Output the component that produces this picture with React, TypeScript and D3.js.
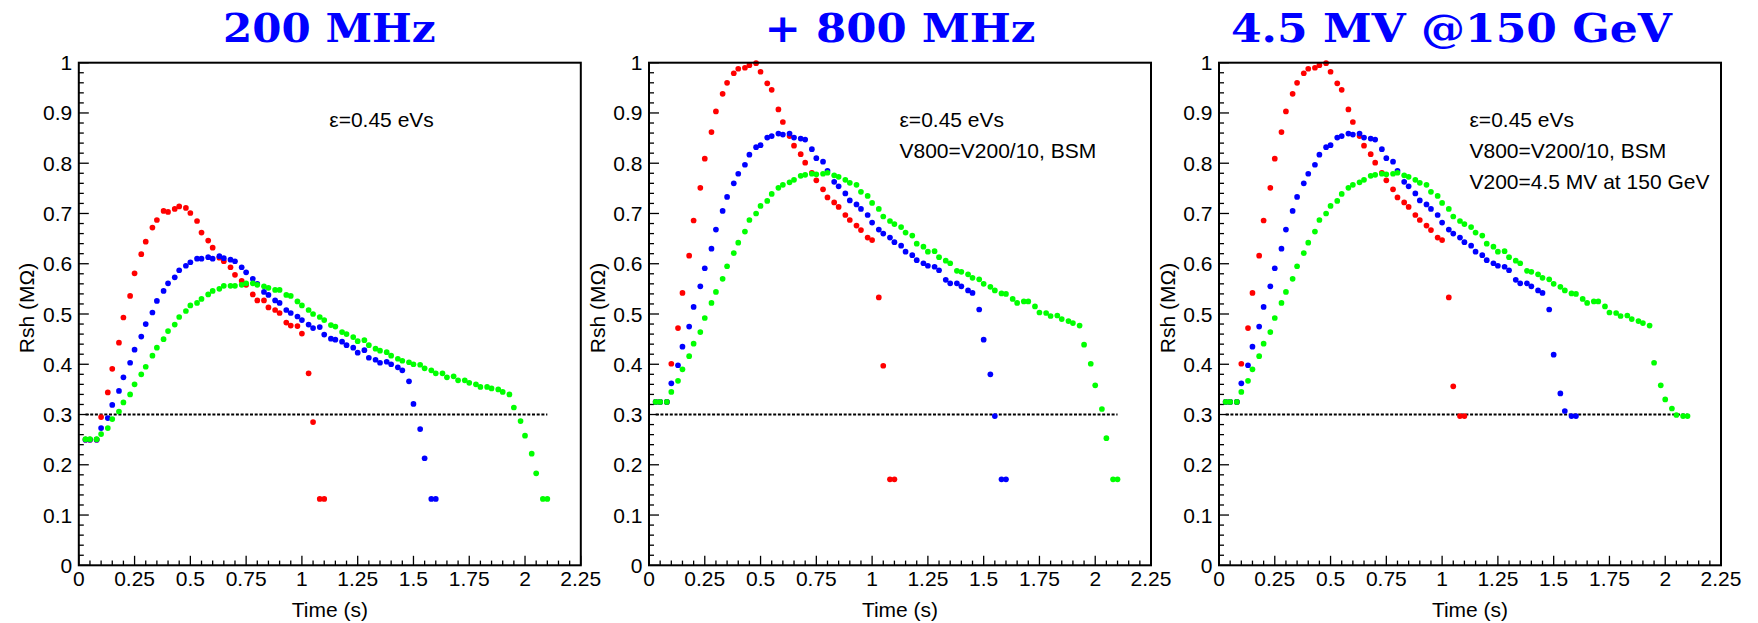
import React from "react";
import * as d3 from "d3";

// sampling times (s), shared by every series
const times = [
  0.03, 0.05, 0.08, 0.1, 0.13, 0.15, 0.18, 0.2, 0.23, 0.25, 0.28, 0.3, 0.33, 0.35, 0.38, 0.4,
  0.43, 0.45, 0.48, 0.5, 0.53, 0.55, 0.58, 0.6, 0.63, 0.65, 0.68, 0.7, 0.73, 0.75, 0.78, 0.8,
  0.83, 0.85, 0.88, 0.9, 0.93, 0.95, 0.98, 1.0, 1.03, 1.05, 1.08, 1.1, 1.13, 1.15, 1.18, 1.2,
  1.23, 1.25, 1.28, 1.3, 1.33, 1.35, 1.38, 1.4, 1.43, 1.45, 1.48, 1.5, 1.53, 1.55, 1.58, 1.6,
  1.63, 1.65, 1.68, 1.7, 1.73, 1.75, 1.78, 1.8, 1.83, 1.85, 1.88, 1.9, 1.93, 1.95, 1.98, 2.0,
  2.03, 2.05, 2.08, 2.1,
];

// 200 MHz only
const red200 = [
  0.25, 0.25, 0.25, 0.295, 0.344, 0.391, 0.443, 0.493, 0.536, 0.581, 0.619, 0.644, 0.672, 0.687,
  0.705, 0.703, 0.709, 0.714, 0.711, 0.701, 0.685, 0.662, 0.646, 0.632, 0.612, 0.605, 0.593,
  0.578, 0.566, 0.558, 0.539, 0.527, 0.527, 0.513, 0.508, 0.502, 0.483, 0.477, 0.476, 0.461,
  0.382, 0.285, 0.132, 0.132,
];
const blue200 = [
  0.25, 0.25, 0.25, 0.273, 0.293, 0.319, 0.347, 0.374, 0.403, 0.429, 0.455, 0.48, 0.503, 0.526,
  0.546, 0.561, 0.573, 0.587, 0.596, 0.603, 0.61, 0.61, 0.613, 0.61, 0.615, 0.611, 0.608, 0.605,
  0.593, 0.583, 0.57, 0.56, 0.544, 0.538, 0.527, 0.522, 0.508, 0.502, 0.495, 0.488, 0.479, 0.472,
  0.474, 0.459, 0.451, 0.449, 0.445, 0.438, 0.433, 0.423, 0.428, 0.413, 0.409, 0.403, 0.405, 0.4,
  0.394, 0.388, 0.366, 0.321, 0.271, 0.213, 0.132, 0.132,
];
const green200 = [
  0.251, 0.251, 0.251, 0.261, 0.273, 0.291, 0.306, 0.324, 0.34, 0.36, 0.38, 0.395, 0.417, 0.433,
  0.45, 0.466, 0.479, 0.494, 0.506, 0.517, 0.522, 0.53, 0.539, 0.546, 0.55, 0.556, 0.556, 0.556,
  0.558, 0.561, 0.561, 0.558, 0.555, 0.552, 0.548, 0.548, 0.538, 0.536, 0.525, 0.517, 0.508, 0.5,
  0.494, 0.488, 0.478, 0.475, 0.464, 0.46, 0.454, 0.446, 0.448, 0.438, 0.431, 0.427, 0.424, 0.417,
  0.411, 0.407, 0.404, 0.4, 0.399, 0.392, 0.388, 0.382, 0.382, 0.374, 0.376, 0.368, 0.368, 0.363,
  0.36, 0.355, 0.355, 0.352, 0.35, 0.345, 0.34, 0.314, 0.287, 0.258, 0.222, 0.183, 0.132, 0.132,
];

// + 800 MHz
const red800 = [
  0.325, 0.325, 0.325, 0.401, 0.472, 0.542, 0.616, 0.686, 0.751, 0.809, 0.862, 0.903, 0.938, 0.96,
  0.979, 0.988, 0.99, 0.995, 0.999, 0.982, 0.959, 0.946, 0.907, 0.882, 0.854, 0.835, 0.818, 0.801,
  0.781, 0.766, 0.748, 0.732, 0.722, 0.713, 0.697, 0.687, 0.676, 0.667, 0.652, 0.647, 0.533,
  0.397, 0.171, 0.171,
];
const blue800 = [
  0.325, 0.325, 0.325, 0.362, 0.398, 0.435, 0.475, 0.514, 0.555, 0.591, 0.63, 0.668, 0.705, 0.733,
  0.76, 0.779, 0.797, 0.817, 0.832, 0.836, 0.851, 0.854, 0.859, 0.857, 0.859, 0.851, 0.849, 0.847,
  0.828, 0.81, 0.803, 0.785, 0.763, 0.754, 0.74, 0.726, 0.718, 0.709, 0.697, 0.682, 0.668, 0.66,
  0.652, 0.643, 0.636, 0.624, 0.617, 0.607, 0.601, 0.596, 0.594, 0.587, 0.568, 0.561, 0.561,
  0.555, 0.547, 0.542, 0.509, 0.449, 0.38, 0.297, 0.171, 0.171,
];
const green800 = [
  0.325, 0.325, 0.325, 0.345, 0.367, 0.39, 0.416, 0.441, 0.464, 0.492, 0.522, 0.544, 0.57, 0.595,
  0.621, 0.642, 0.664, 0.687, 0.7, 0.715, 0.725, 0.739, 0.751, 0.757, 0.762, 0.767, 0.775, 0.777,
  0.779, 0.778, 0.779, 0.781, 0.776, 0.773, 0.767, 0.761, 0.757, 0.743, 0.735, 0.721, 0.709,
  0.694, 0.685, 0.679, 0.673, 0.662, 0.656, 0.64, 0.634, 0.624, 0.625, 0.613, 0.606, 0.601, 0.586,
  0.584, 0.579, 0.572, 0.569, 0.56, 0.554, 0.547, 0.541, 0.54, 0.53, 0.522, 0.525, 0.525, 0.515,
  0.503, 0.502, 0.496, 0.497, 0.49, 0.486, 0.482, 0.477, 0.439, 0.401, 0.358, 0.311, 0.253, 0.171,
  0.171,
];

// 4.5 MV @ 150 GeV
const red45 = [
  0.325, 0.325, 0.325, 0.401, 0.472, 0.542, 0.616, 0.686, 0.751, 0.809, 0.862, 0.903, 0.938, 0.96,
  0.979, 0.988, 0.99, 0.995, 0.999, 0.982, 0.959, 0.946, 0.907, 0.882, 0.854, 0.835, 0.818, 0.801,
  0.781, 0.766, 0.748, 0.732, 0.722, 0.713, 0.697, 0.687, 0.676, 0.667, 0.652, 0.647, 0.533,
  0.356, 0.297, 0.297,
];
const blue45 = [
  0.325, 0.325, 0.325, 0.362, 0.398, 0.435, 0.475, 0.514, 0.555, 0.591, 0.63, 0.668, 0.705, 0.733,
  0.76, 0.779, 0.797, 0.817, 0.832, 0.836, 0.851, 0.854, 0.859, 0.857, 0.859, 0.851, 0.849, 0.847,
  0.828, 0.81, 0.803, 0.785, 0.763, 0.754, 0.74, 0.726, 0.718, 0.709, 0.697, 0.682, 0.668, 0.66,
  0.652, 0.643, 0.636, 0.624, 0.617, 0.607, 0.601, 0.596, 0.594, 0.587, 0.568, 0.561, 0.561,
  0.555, 0.547, 0.542, 0.509, 0.419, 0.342, 0.307, 0.297, 0.297,
];
const green45 = [
  0.325, 0.325, 0.325, 0.345, 0.367, 0.39, 0.416, 0.441, 0.464, 0.492, 0.522, 0.544, 0.57, 0.595,
  0.621, 0.642, 0.664, 0.687, 0.7, 0.715, 0.725, 0.739, 0.751, 0.757, 0.762, 0.767, 0.775, 0.777,
  0.779, 0.778, 0.779, 0.781, 0.776, 0.773, 0.767, 0.761, 0.757, 0.743, 0.735, 0.721, 0.709,
  0.694, 0.685, 0.679, 0.673, 0.662, 0.656, 0.64, 0.634, 0.624, 0.625, 0.613, 0.606, 0.601, 0.586,
  0.584, 0.579, 0.572, 0.569, 0.56, 0.554, 0.547, 0.541, 0.54, 0.53, 0.522, 0.525, 0.525, 0.515,
  0.503, 0.502, 0.496, 0.497, 0.49, 0.486, 0.482, 0.477, 0.403, 0.358, 0.33, 0.312, 0.299, 0.297,
  0.297,
];

const xTicks = [0, 0.25, 0.5, 0.75, 1, 1.25, 1.5, 1.75, 2, 2.25];
const xTickLabels = ["0", "0.25", "0.5", "0.75", "1", "1.25", "1.5", "1.75", "2", "2.25"];
const yTicks = [0, 0.1, 0.2, 0.3, 0.4, 0.5, 0.6, 0.7, 0.8, 0.9, 1];
const yTickLabels = ["0", "0.1", "0.2", "0.3", "0.4", "0.5", "0.6", "0.7", "0.8", "0.9", "1"];
const threshold = 0.3;

const titles = ["200 MHz", "+ 800 MHz", "4.5 MV @150 GeV"];
const notes = [
  ["ε=0.45 eVs"],
  ["ε=0.45 eVs", "V800=V200/10, BSM"],
  ["ε=0.45 eVs", "V800=V200/10, BSM", "V200=4.5 MV at 150 GeV"],
];
const panelSeries = [
  [red200, blue200, green200],
  [red800, blue800, green800],
  [red45, blue45, green45],
];
const colors = ["#ff0000", "#0000ff", "#00ff00"];

// layout (px)
const W = 1758;
const H = 623;
const frameLeft = [78.8, 649, 1219];
const frameW = 502;
const frameTop = 62.7;
const frameH = 502.6;
const titleCx = [329.3, 900, 1451.5];
const titleLen = [212.5, 271, 441];
const sans = "'Liberation Sans', Arial, Helvetica, sans-serif";

const Panel = ({ i }: { i: number }) => {
  const left = frameLeft[i];
  const x = d3.scaleLinear().domain([0, 2.25]).range([left, left + frameW]);
  const y = d3.scaleLinear().domain([0, 1]).range([frameTop + frameH, frameTop]);
  const bottom = frameTop + frameH;

  const xMinor = d3.range(0, 2.2501, 0.05).filter((v) => !xTicks.some((t) => Math.abs(t - v) < 1e-6));
  const yMinor = d3.range(0, 1.0001, 0.02).filter((v) => !yTicks.some((t) => Math.abs(t - v) < 1e-6));

  return (
    <g>
      <text
        x={titleCx[i]}
        y={41.7}
        textAnchor="middle"
        fontFamily="'DejaVu Serif', serif"
        fontWeight="bold"
        fontSize={40}
        fill="#0000ff"
        textLength={titleLen[i]}
        lengthAdjust="spacingAndGlyphs"
      >
        {titles[i]}
      </text>

      {/* ticks inside the frame */}
      <g stroke="#000" strokeWidth={1.3}>
        {xTicks.map((t) => (
          <line key={"xM" + t} x1={x(t)} x2={x(t)} y1={bottom} y2={bottom - 9.5} />
        ))}
        {xMinor.map((t) => (
          <line key={"xm" + t} x1={x(t)} x2={x(t)} y1={bottom} y2={bottom - 4.7} />
        ))}
        {yTicks.map((v) => (
          <line key={"yM" + v} x1={left} x2={left + 10} y1={y(v)} y2={y(v)} />
        ))}
        {yMinor.map((v) => (
          <line key={"ym" + v} x1={left} x2={left + 5} y1={y(v)} y2={y(v)} />
        ))}
      </g>

      <g fontFamily={sans} fontSize={21} fill="#000">
        {xTicks.map((t, k) => (
          <text key={"xl" + t} x={x(t)} y={586} textAnchor="middle">
            {xTickLabels[k]}
          </text>
        ))}
        {yTicks.map((v, k) => (
          <text key={"yl" + v} x={left - 6.5} y={y(v) + 7.5} textAnchor="end">
            {yTickLabels[k]}
          </text>
        ))}
        <text x={left + frameW / 2} y={617} textAnchor="middle">
          Time (s)
        </text>
        <text
          transform={`translate(${left - 44.5},${308}) rotate(-90)`}
          textAnchor="middle"
        >
          Rsh (MΩ)
        </text>
        {notes[i].map((n, k) => (
          <text key={n} x={left + 250.5} y={126.7 + k * 31} fontSize={21}>
            {n}
          </text>
        ))}
      </g>

      <line
        x1={x(times[0])}
        x2={x(times[times.length - 1])}
        y1={y(threshold)}
        y2={y(threshold)}
        stroke="#000"
        strokeWidth={2}
        strokeDasharray="3 1.7"
      />

      {panelSeries[i].map((vals, s) => (
        <g key={s} fill={colors[s]}>
          {vals.map((v, k) => (
            <circle key={k} cx={x(times[k])} cy={y(v)} r={2.85} />
          ))}
        </g>
      ))}

      <rect x={left} y={frameTop} width={frameW} height={frameH} fill="none" stroke="#000" strokeWidth={2} />
    </g>
  );
};

export default function App() {
  return (
    <svg
      width={W}
      height={H}
      style={{ position: "absolute", left: 0, top: 0, background: "#fff" }}
    >
      <rect width={W} height={H} fill="#fff" />
      {[0, 1, 2].map((i) => (
        <Panel key={i} i={i} />
      ))}
    </svg>
  );
}
